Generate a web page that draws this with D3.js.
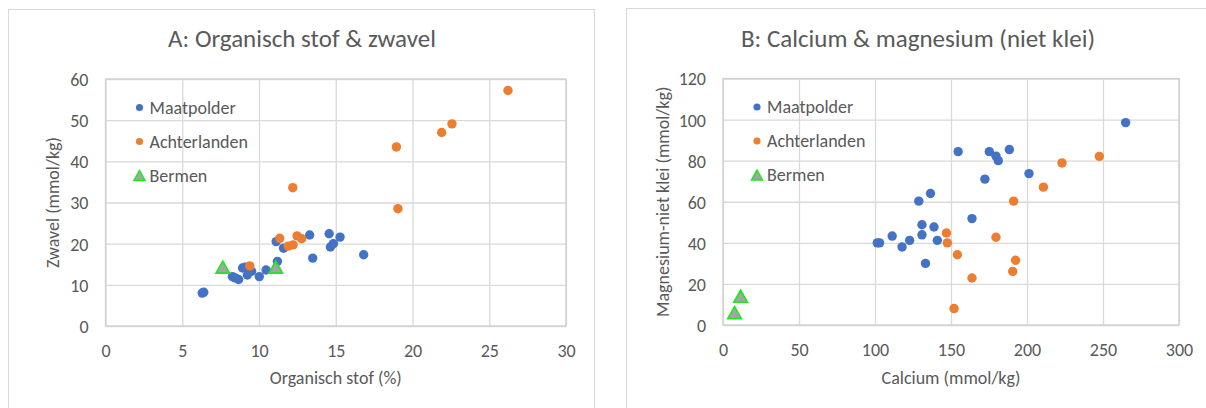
<!DOCTYPE html>
<html>
<head>
<meta charset="utf-8">
<script src="https://cdn.jsdelivr.net/npm/d3@7"></script>
<style>
  html, body { margin: 0; padding: 0; background: #ffffff; }
  svg text { font-family: Carlito, Lato, "Open Sans", sans-serif; fill: #595959; }
</style>
</head>
<body>
<svg id="chart" width="1206" height="408"></svg>
<script>
// ---------- Data ----------
const seriesNames = ["Maatpolder", "Achterlanden", "Bermen"];

// Chart A: Organisch stof (%) vs Zwavel (mmol/kg)
const maatA_x = [6.3, 6.4, 8.27, 8.45, 8.67, 8.93, 9.1, 9.24, 9.52, 10.02, 10.46, 11.12, 11.2, 11.6, 13.3, 13.5, 14.57, 14.65, 14.85, 15.28, 16.82];
const maatA_y = [8.0, 8.2, 12.0, 11.7, 11.3, 14.1, 14.3, 12.4, 13.3, 12.0, 13.6, 20.5, 15.7, 18.9, 22.1, 16.5, 22.4, 19.2, 20.0, 21.6, 17.3];
const achA_x = [9.4, 11.35, 11.9, 12.22, 12.2, 12.48, 12.78, 18.95, 19.05, 21.9, 22.57, 26.22];
const achA_y = [14.6, 21.3, 19.4, 19.7, 33.6, 21.9, 21.2, 43.5, 28.5, 47.0, 49.1, 57.2];
const bermA_x = [7.64, 11.09];
const bermA_y = [14.3, 14.3];
const xTicksA = [0, 5, 10, 15, 20, 25, 30];
const yTicksA = [0, 10, 20, 30, 40, 50, 60];

// Chart B: Calcium (mmol/kg) vs Magnesium-niet klei (mmol/kg)
const maatB_x = [101.5, 103, 111.3, 117.8, 122.8, 128.8, 130.9, 130.9, 133.2, 136.5, 138.8, 141.0, 154.7, 163.8, 172.3, 175.2, 179.6, 181.1, 188.4, 201.3, 264.9];
const maatB_y = [40.0, 40.0, 43.3, 38.0, 41.2, 60.3, 48.8, 43.9, 30.0, 64.0, 47.7, 41.2, 84.4, 51.8, 71.0, 84.4, 82.2, 80.0, 85.4, 73.7, 98.5];
const achB_x = [147.0, 147.6, 152.0, 154.2, 163.8, 179.6, 190.6, 191.2, 192.5, 210.8, 223.0, 247.6];
const achB_y = [44.8, 40.0, 8.0, 34.2, 22.9, 42.7, 26.1, 60.3, 31.5, 67.1, 78.9, 82.1];
const bermB_x = [7.6, 11.6];
const bermB_y = [6.0, 14.0];
const xTicksB = [0, 50, 100, 150, 200, 250, 300];
const yTicksB = [0, 20, 40, 60, 80, 100, 120];

// ---------- Styles ----------
const colors = { maat: "#4472C4", ach: "#ED7D31", bermFill: "#A5A5A5", bermStroke: "#1EE81E" };
const gridColor = "#D9D9D9";

const svg = d3.select("#chart");

function zip(xs, ys) { return xs.map((x, i) => ({ x: x, y: ys[i] })); }

function triPath(cx, cy, w, h) {
  return `M${cx},${cy - h / 2}L${cx + w / 2},${cy + h / 2}L${cx - w / 2},${cy + h / 2}Z`;
}

function drawChart(cfg) {
  // panel
  svg.append("rect")
    .attr("x", cfg.panel[0]).attr("y", cfg.panel[1])
    .attr("width", cfg.panel[2]).attr("height", cfg.panel[3])
    .attr("fill", "#fff").attr("stroke", gridColor).attr("stroke-width", 1);

  const x = d3.scaleLinear().domain([cfg.xTicks[0], cfg.xTicks[cfg.xTicks.length - 1]]).range([cfg.left, cfg.right]);
  const y = d3.scaleLinear().domain([cfg.yTicks[0], cfg.yTicks[cfg.yTicks.length - 1]]).range([cfg.bottom, cfg.top]);

  const g = svg.append("g");

  // gridlines via axes
  const xGrid = g.append("g").attr("transform", `translate(0,${cfg.bottom})`)
    .call(d3.axisBottom(x).tickValues(cfg.xTicks).tickSize(-(cfg.bottom - cfg.top)).tickFormat(""));
  xGrid.select(".domain").remove();
  xGrid.selectAll("line").attr("stroke", gridColor).attr("stroke-width", 1.3);

  const yGrid = g.append("g").attr("transform", `translate(${cfg.left},0)`)
    .call(d3.axisLeft(y).tickValues(cfg.yTicks).tickSize(-(cfg.right - cfg.left)).tickFormat(""));
  yGrid.select(".domain").remove();
  yGrid.selectAll("line").attr("stroke", gridColor).attr("stroke-width", 1.3);

  // border of plot
  g.append("rect").attr("x", cfg.left).attr("y", cfg.top)
    .attr("width", cfg.right - cfg.left).attr("height", cfg.bottom - cfg.top)
    .attr("fill", "none").attr("stroke", "#D0D0D0").attr("stroke-width", 1.3);

  // tick labels
  const xAx = g.append("g").attr("transform", `translate(0,${cfg.bottom})`)
    .call(d3.axisBottom(x).tickValues(cfg.xTicks).tickSize(0).tickPadding(0));
  xAx.select(".domain").remove();
  xAx.selectAll("text").attr("y", 31).attr("dy", null)
    .style("font-size", "18px").attr("fill", "#595959");

  const yAx = g.append("g").attr("transform", `translate(${cfg.left},0)`)
    .call(d3.axisLeft(y).tickValues(cfg.yTicks).tickSize(0).tickPadding(0));
  yAx.select(".domain").remove();
  yAx.selectAll("text").attr("x", -17).attr("dy", "0.36em")
    .style("font-size", "18px").attr("fill", "#595959");

  // points
  g.selectAll(".maat").data(zip(cfg.maat[0], cfg.maat[1])).enter().append("circle")
    .attr("cx", d => x(d.x)).attr("cy", d => y(d.y)).attr("r", 4.7)
    .attr("fill", colors.maat);
  g.selectAll(".ach").data(zip(cfg.ach[0], cfg.ach[1])).enter().append("circle")
    .attr("cx", d => x(d.x)).attr("cy", d => y(d.y)).attr("r", 4.7)
    .attr("fill", colors.ach);
  g.selectAll(".berm").data(zip(cfg.berm[0], cfg.berm[1])).enter().append("path")
    .attr("d", d => triPath(x(d.x), y(d.y), 13.5, 12))
    .attr("fill", colors.bermFill).attr("stroke", colors.bermStroke).attr("stroke-width", 1.7)
    .attr("stroke-linejoin", "miter");

  // legend
  const lx = cfg.left + 34, tx = cfg.left + 44;
  const rows = [cfg.top + 28.5, cfg.top + 62.5, cfg.top + 96.5];
  const leg = g.append("g");
  leg.append("circle").attr("cx", lx).attr("cy", rows[0]).attr("r", 3.6).attr("fill", colors.maat);
  leg.append("circle").attr("cx", lx).attr("cy", rows[1]).attr("r", 3.6).attr("fill", colors.ach);
  leg.append("path").attr("d", triPath(lx, rows[2], 11, 10))
    .attr("fill", colors.bermFill).attr("stroke", colors.bermStroke).attr("stroke-width", 1.5);
  seriesNames.forEach((n, i) => {
    leg.append("text").attr("x", tx).attr("y", rows[i]).attr("dy", "0.36em")
      .style("font-size", "18px").text(n);
  });

  // titles
  svg.append("text").attr("x", cfg.titleX).attr("y", 47).attr("text-anchor", "middle")
    .style("font-size", "25px").text(cfg.title);
  svg.append("text").attr("x", (cfg.left + cfg.right) / 2).attr("y", 384).attr("text-anchor", "middle")
    .style("font-size", "18px").text(cfg.xTitle);
  svg.append("text")
    .attr("transform", `translate(${cfg.yTitleX},${(cfg.top + cfg.bottom) / 2}) rotate(-90)`)
    .attr("text-anchor", "middle").style("font-size", "18px").text(cfg.yTitle);
}

drawChart({
  panel: [8.5, 9.5, 586, 420],
  left: 105.5, right: 566, top: 79, bottom: 326,
  xTicks: xTicksA, yTicks: yTicksA,
  maat: [maatA_x, maatA_y], ach: [achA_x, achA_y], berm: [bermA_x, bermA_y],
  title: "A: Organisch stof & zwavel", titleX: 302,
  xTitle: "Organisch stof (%)", yTitle: "Zwavel (mmol/kg)", yTitleX: 59
});

drawChart({
  panel: [626.5, 8.5, 600, 420],
  left: 723, right: 1179, top: 78.5, bottom: 325,
  xTicks: xTicksB, yTicks: yTicksB,
  maat: [maatB_x, maatB_y], ach: [achB_x, achB_y], berm: [bermB_x, bermB_y],
  title: "B: Calcium & magnesium (niet klei)", titleX: 918,
  xTitle: "Calcium (mmol/kg)", yTitle: "Magnesium-niet klei (mmol/kg)", yTitleX: 669
});
</script>
</body>
</html>
